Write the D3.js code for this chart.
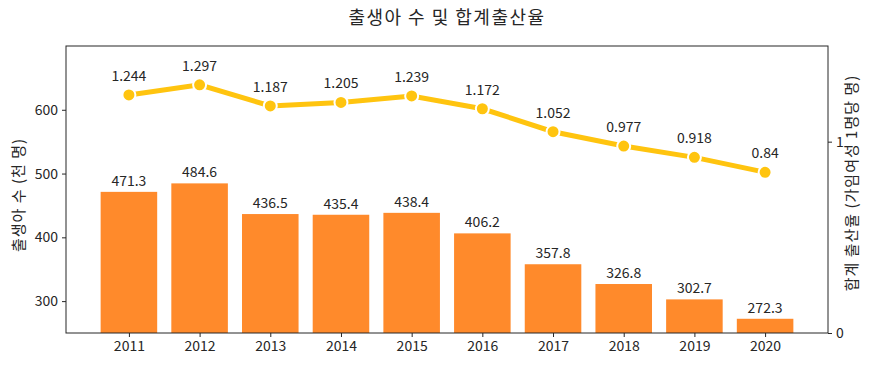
<html>
<head>
    <meta charset="utf-8">
    <script src="https://d3js.org/d3.v7.min.js"></script>
    <style>
        html,body{
            margin: 0px;
            padding: 0px;
            background-color: white;
        }
        text {
            font-family: "Noto Sans CJK KR", "Noto Sans", sans-serif;
            fill: #262626;
        }
    </style>
</head>
<body>
    <div id="chart"></div>
    <script>
        // data
        const years = ["2011", "2012", "2013", "2014", "2015", "2016", "2017", "2018", "2019", "2020"];
        const births = [471.3, 484.6, 436.5, 435.4, 438.4, 406.2, 357.8, 326.8, 302.7, 272.3];
        const fertility = [1.244, 1.297, 1.187, 1.205, 1.239, 1.172, 1.052, 0.977, 0.918, 0.84];
        const leftTicks = [300, 400, 500, 600];
        const rightTicks = [0, 1];

        const W = 869, H = 367;
        const margin = {top: 46, right: 41, bottom: 34, left: 66};
        const width = W - margin.left - margin.right,
            height = H - margin.top - margin.bottom;

        const svg = d3.select("#chart")
            .append("svg")
                .attr("width", W)
                .attr("height", H);

        const g = svg.append("g")
            .attr("transform", "translate(" + margin.left + "," + margin.top + ")");

        // x as index scale, matplotlib-like margins around bars
        const x = d3.scaleLinear()
            .domain([-0.89, years.length - 1 + 0.89])
            .range([0, width]);
        const barW = x(0.8) - x(0);

        const yL = d3.scaleLinear().domain([250, 700]).range([height, 0]);
        const yR = d3.scaleLinear().domain([0, 1.5]).range([height, 0]);

        // bars
        g.append("g")
            .selectAll("rect")
            .data(births)
            .enter()
            .append("rect")
                .attr("x", (d, i) => x(i) - barW / 2)
                .attr("y", d => yL(d))
                .attr("width", barW)
                .attr("height", d => height - yL(d))
                .attr("fill", "#ff8a2b");

        g.append("g")
            .selectAll("text")
            .data(births)
            .enter()
            .append("text")
                .attr("x", (d, i) => x(i))
                .attr("y", d => yL(d) - 6)
                .attr("text-anchor", "middle")
                .attr("font-size", 14)
                .text(d => d);

        // line
        g.append("path")
            .datum(fertility)
            .attr("fill", "none")
            .attr("stroke", "#ffc40f")
            .attr("stroke-width", 5)
            .attr("d", d3.line()
                .x((d, i) => x(i))
                .y(d => yR(d))
            );

        g.append("g")
            .selectAll("circle")
            .data(fertility)
            .enter()
            .append("circle")
                .attr("cx", (d, i) => x(i))
                .attr("cy", d => yR(d))
                .attr("r", 6.5)
                .attr("fill", "#ffc40f")
                .attr("stroke", "white")
                .attr("stroke-width", 2);

        g.append("g")
            .selectAll("text")
            .data(fertility)
            .enter()
            .append("text")
                .attr("x", (d, i) => x(i))
                .attr("y", d => yR(d) - 14)
                .attr("text-anchor", "middle")
                .attr("font-size", 14)
                .text(d => d);

        // axes
        g.append("g")
            .attr("transform", "translate(0," + height + ")")
            .call(d3.axisBottom(x)
                .tickValues(d3.range(years.length))
                .tickFormat(i => years[i])
                .tickSize(4)
                .tickPadding(4));

        g.append("g")
            .call(d3.axisLeft(yL)
                .tickValues(leftTicks)
                .tickSize(4)
                .tickPadding(4));

        g.append("g")
            .attr("transform", "translate(" + width + ",0)")
            .call(d3.axisRight(yR)
                .tickValues(rightTicks)
                .tickFormat(d3.format("d"))
                .tickSize(4)
                .tickPadding(4));

        svg.selectAll(".tick text")
            .attr("font-size", 14)
            .style("font-family", "\"Noto Sans CJK KR\", sans-serif")
            .attr("fill", "#262626");
        svg.selectAll(".domain").attr("display", "none");
        svg.selectAll(".tick line").attr("stroke", "#262626");

        // frame
        g.append("rect")
            .attr("width", width)
            .attr("height", height)
            .attr("fill", "none")
            .attr("stroke", "#262626")
            .attr("stroke-width", 1);

        // titles
        svg.append("text")
            .attr("x", margin.left + width / 2)
            .attr("y", 24)
            .attr("text-anchor", "middle")
            .attr("font-size", 18)
            .attr("letter-spacing", 1.5)
            .text("출생아 수 및 합계출산율");

        svg.append("text")
            .attr("transform", "translate(24," + 195 + ") rotate(-90)")
            .attr("text-anchor", "middle")
            .attr("font-size", 15)
            .attr("letter-spacing", 1)
            .text("출생아 수 (천 명)");

        svg.append("text")
            .attr("transform", "translate(857," + 183 + ") rotate(-90)")
            .attr("text-anchor", "middle")
            .attr("font-size", 15)
            .attr("letter-spacing", 1)
            .text("합계 출산율 (가임여성 1명당 명)");
    </script>
</body>
</html>
